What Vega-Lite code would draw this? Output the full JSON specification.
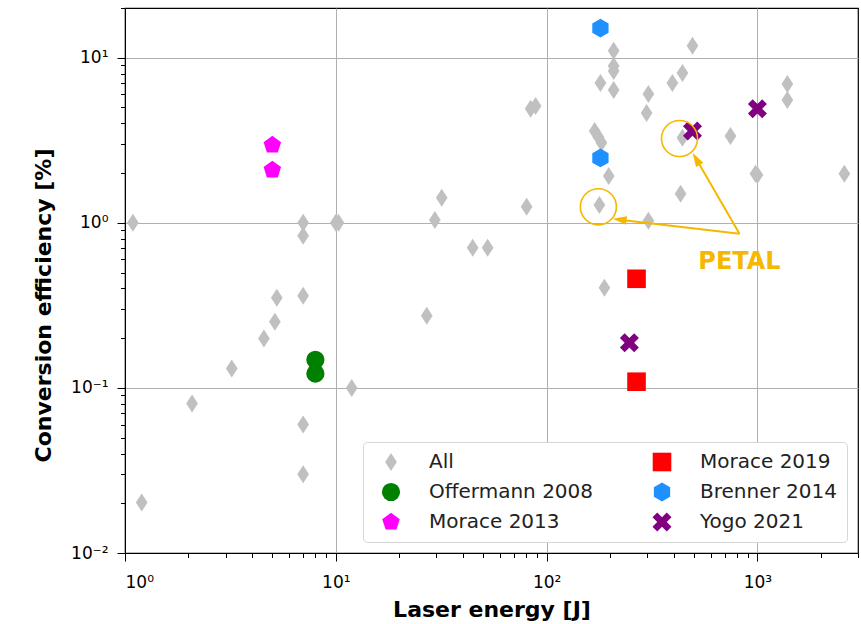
{
  "$schema": "https://vega.github.io/schema/vega-lite/v6.json",
  "autosize": {"type": "none"},
  "padding": {"left": 125, "top": 8, "right": 3, "bottom": 71},
  "width": 733,
  "height": 545,
  "background": "white",
  "config": {
    "font": "DejaVu Sans",
    "view": {"stroke": "black", "strokeWidth": 1.2},
    "axis": {
      "domainColor": "black",
      "tickColor": "black",
      "labelColor": "black",
      "titleColor": "black",
      "labelFont": "DejaVu Sans",
      "titleFont": "DejaVu Sans",
      "labelFontSize": 17,
      "titleFontSize": 22,
      "titleFontWeight": "bold",
      "gridColor": "#b0b0b0",
      "gridWidth": 1
    },
    "legend": {
      "orient": "bottom-right",
      "offset": 11,
      "columns": 2,
      "labelFont": "DejaVu Sans",
      "labelFontSize": 20,
      "labelLimit": 300,
      "labelColor": "#222222",
      "strokeColor": "#d6d6d6",
      "fillColor": "white",
      "cornerRadius": 4,
      "padding": 10,
      "rowPadding": 10,
      "columnPadding": 50,
      "symbolOffset": 8,
      "labelOffset": 28,
      "symbolStrokeWidth": 0
    }
  },
  "datasets": {
    "points": [
      {"series": "All", "energy": 1.09, "eff": 1.0},
      {"series": "All", "energy": 1.2, "eff": 0.0202},
      {"series": "All", "energy": 2.08, "eff": 0.0804},
      {"series": "All", "energy": 3.21, "eff": 0.131},
      {"series": "All", "energy": 4.56, "eff": 0.199},
      {"series": "All", "energy": 5.14, "eff": 0.252},
      {"series": "All", "energy": 5.25, "eff": 0.352},
      {"series": "All", "energy": 7.0, "eff": 1.0},
      {"series": "All", "energy": 7.0, "eff": 0.834},
      {"series": "All", "energy": 7.0, "eff": 0.362},
      {"series": "All", "energy": 7.0, "eff": 0.06},
      {"series": "All", "energy": 7.0, "eff": 0.03},
      {"series": "All", "energy": 10.0, "eff": 1.0},
      {"series": "All", "energy": 10.3, "eff": 1.0},
      {"series": "All", "energy": 11.9, "eff": 0.1},
      {"series": "All", "energy": 27.0, "eff": 0.274},
      {"series": "All", "energy": 29.5, "eff": 1.04},
      {"series": "All", "energy": 31.8, "eff": 1.42},
      {"series": "All", "energy": 44.6, "eff": 0.706},
      {"series": "All", "energy": 52.5, "eff": 0.706},
      {"series": "All", "energy": 80.4, "eff": 1.25},
      {"series": "All", "energy": 84.0, "eff": 4.9},
      {"series": "All", "energy": 88.7, "eff": 5.1},
      {"series": "All", "energy": 169, "eff": 3.6},
      {"series": "All", "energy": 176, "eff": 3.31},
      {"series": "All", "energy": 182, "eff": 3.05},
      {"series": "All", "energy": 178, "eff": 1.28},
      {"series": "All", "energy": 180, "eff": 7.03},
      {"series": "All", "energy": 197, "eff": 1.92},
      {"series": "All", "energy": 188, "eff": 0.404},
      {"series": "All", "energy": 208, "eff": 11.0},
      {"series": "All", "energy": 208, "eff": 8.9},
      {"series": "All", "energy": 208, "eff": 8.3},
      {"series": "All", "energy": 208, "eff": 6.38},
      {"series": "All", "energy": 298, "eff": 4.63},
      {"series": "All", "energy": 304, "eff": 6.03},
      {"series": "All", "energy": 304, "eff": 1.03},
      {"series": "All", "energy": 395, "eff": 7.03},
      {"series": "All", "energy": 441, "eff": 8.08},
      {"series": "All", "energy": 441, "eff": 3.27},
      {"series": "All", "energy": 432, "eff": 1.5},
      {"series": "All", "energy": 492, "eff": 11.8},
      {"series": "All", "energy": 745, "eff": 3.36},
      {"series": "All", "energy": 979, "eff": 1.98},
      {"series": "All", "energy": 1000, "eff": 1.95},
      {"series": "All", "energy": 1387, "eff": 6.93},
      {"series": "All", "energy": 1387, "eff": 5.55},
      {"series": "All", "energy": 2584, "eff": 1.98},
      {"series": "Offermann 2008", "energy": 8.0, "eff": 0.148},
      {"series": "Offermann 2008", "energy": 8.0, "eff": 0.122},
      {"series": "Morace 2013", "energy": 5.0, "eff": 2.96},
      {"series": "Morace 2013", "energy": 5.0, "eff": 2.09},
      {"series": "Morace 2019", "energy": 267, "eff": 0.458},
      {"series": "Morace 2019", "energy": 267, "eff": 0.109},
      {"series": "Brenner 2014", "energy": 180, "eff": 15.1},
      {"series": "Brenner 2014", "energy": 180, "eff": 2.47},
      {"series": "Yogo 2021", "energy": 492, "eff": 3.6},
      {"series": "Yogo 2021", "energy": 1000, "eff": 4.9},
      {"series": "Yogo 2021", "energy": 247, "eff": 0.188}
    ],
    "circles": [
      {"energy": 176, "eff": 1.25},
      {"energy": 427, "eff": 3.24}
    ],
    "arrows": [
      {"energy": 822, "eff": 0.858, "energy2": 222, "eff2": 1.045, "angle": 276.7},
      {"energy": 822, "eff": 0.858, "energy2": 512, "eff2": 2.44, "angle": 329.4}
    ],
    "labels": [
      {"energy": 822, "eff": 0.581, "text": "PETAL"}
    ]
  },
  "layer": [
    {
      "data": {"name": "points"},
      "mark": {"type": "point", "filled": true, "opacity": 1, "strokeWidth": 0},
      "encoding": {
        "x": {
          "field": "energy", "type": "quantitative",
          "scale": {"type": "log", "domain": [1, 3000], "nice": false},
          "axis": {
            "title": "Laser energy [J]",
            "titlePadding": 9,
            "labelPadding": 13,
            "values": [1,2,3,4,5,6,7,8,9,10,20,30,40,50,60,70,80,90,100,200,300,400,500,600,700,800,900,1000,2000,3000],
            "labelExpr": "datum.value==1?'10⁰':datum.value==10?'10¹':datum.value==100?'10²':datum.value==1000?'10³':''",
            "tickSize": {"condition": {"test": "abs(log(datum.value)/LN10 - round(log(datum.value)/LN10)) < 0.001", "value": 8}, "value": 4.5},
            "gridOpacity": {"condition": {"test": "abs(log(datum.value)/LN10 - round(log(datum.value)/LN10)) < 0.001", "value": 1}, "value": 0}
          }
        },
        "y": {
          "field": "eff", "type": "quantitative",
          "scale": {"type": "log", "domain": [0.01, 20], "nice": false},
          "axis": {
            "title": "Conversion efficiency [%]",
            "titlePadding": 15,
            "titleY": 297,
            "labelPadding": 9,
            "values": [0.01,0.02,0.03,0.04,0.05,0.06,0.07,0.08,0.09,0.1,0.2,0.3,0.4,0.5,0.6,0.7,0.8,0.9,1,2,3,4,5,6,7,8,9,10,20],
            "labelExpr": "datum.value==0.01?'10⁻²':datum.value==0.1?'10⁻¹':datum.value==1?'10⁰':datum.value==10?'10¹':''",
            "tickSize": {"condition": {"test": "abs(log(datum.value)/LN10 - round(log(datum.value)/LN10)) < 0.001", "value": 8}, "value": 4.5},
            "gridOpacity": {"condition": {"test": "abs(log(datum.value)/LN10 - round(log(datum.value)/LN10)) < 0.001", "value": 1}, "value": 0}
          }
        },
        "color": {
          "field": "series", "type": "nominal", "title": null,
          "scale": {
            "domain": ["All", "Offermann 2008", "Morace 2013", "Morace 2019", "Brenner 2014", "Yogo 2021"],
            "range": ["#c0c0c0", "#008000", "#ff00ff", "#ff0000", "#1e90ff", "#800080"]
          }
        },
        "shape": {
          "field": "series", "type": "nominal", "title": null,
          "scale": {
            "domain": ["All", "Offermann 2008", "Morace 2013", "Morace 2019", "Brenner 2014", "Yogo 2021"],
            "range": [
              "M0,-1L0.65,0L0,1L-0.65,0Z",
              "circle",
              "M0,-1L0.951,-0.309L0.588,0.809L-0.588,0.809L-0.951,-0.309Z",
              "square",
              "M0,-1L0.866,-0.5L0.866,0.5L0,1L-0.866,0.5L-0.866,-0.5Z",
              "M-1,-0.5L-0.5,-1L0,-0.5L0.5,-1L1,-0.5L0.5,0L1,0.5L0.5,1L0,0.5L-0.5,1L-1,0.5L-0.5,0Z"
            ]
          }
        },
        "size": {
          "field": "series", "type": "nominal", "title": null,
          "scale": {
            "domain": ["All", "Offermann 2008", "Morace 2013", "Morace 2019", "Brenner 2014", "Yogo 2021"],
            "range": [324, 361, 320, 289, 361, 400]
          }
        }
      }
    },
    {
      "data": {"name": "circles"},
      "mark": {"type": "point", "shape": "circle", "filled": false, "size": 1300, "stroke": "#f5b800", "strokeWidth": 1.6, "opacity": 1},
      "encoding": {
        "x": {"field": "energy", "type": "quantitative"},
        "y": {"field": "eff", "type": "quantitative"}
      }
    },
    {
      "data": {"name": "arrows"},
      "mark": {"type": "rule", "color": "#f5b800", "strokeWidth": 2},
      "encoding": {
        "x": {"field": "energy", "type": "quantitative"},
        "y": {"field": "eff", "type": "quantitative"},
        "x2": {"field": "energy2"},
        "y2": {"field": "eff2"}
      }
    },
    {
      "data": {"name": "arrows"},
      "mark": {"type": "point", "shape": "M0,-1L0.6,1L-0.6,1Z", "filled": true, "size": 196, "color": "#f5b800", "opacity": 1, "strokeWidth": 0},
      "encoding": {
        "x": {"field": "energy2", "type": "quantitative"},
        "y": {"field": "eff2", "type": "quantitative"},
        "angle": {"field": "angle", "type": "quantitative", "scale": null}
      }
    },
    {
      "data": {"name": "labels"},
      "mark": {"type": "text", "font": "DejaVu Sans", "fontSize": 24, "fontWeight": "bold", "color": "#f5b800", "align": "center", "baseline": "middle"},
      "encoding": {
        "x": {"field": "energy", "type": "quantitative"},
        "y": {"field": "eff", "type": "quantitative"},
        "text": {"field": "text"}
      }
    }
  ]
}
